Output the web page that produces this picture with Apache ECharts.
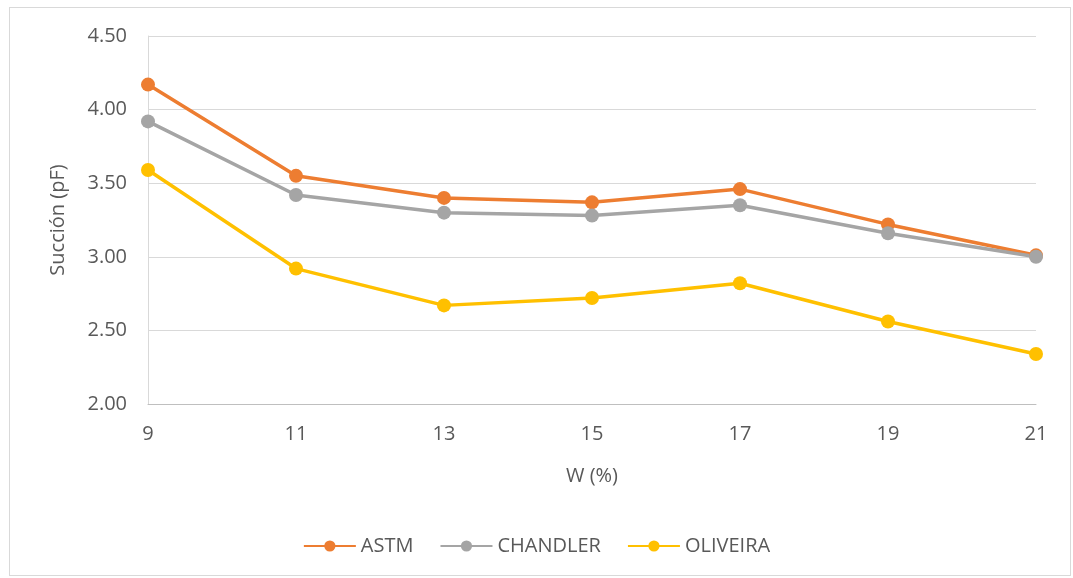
<!DOCTYPE html>
<html>
<head>
<meta charset="utf-8">
<script src="https://cdn.jsdelivr.net/npm/echarts@6/dist/echarts.min.js"></script>
<style>
  body { margin: 0; background: #fff; }
  #frame { position: absolute; left: 9px; top: 7px; width: 1062px; height: 569px; border: 1px solid #d9d9d9; box-sizing: border-box; }
  #chart { width: 1073px; height: 578px; }
</style>
</head>
<body>
<div id="frame"></div>
<div id="chart"></div>
<script>
var categories = ['9', '11', '13', '15', '17', '19', '21'];
var astm = [4.17, 3.55, 3.40, 3.37, 3.46, 3.22, 3.01];
var chandler = [3.92, 3.42, 3.30, 3.28, 3.35, 3.16, 3.00];
var oliveira = [3.59, 2.92, 2.67, 2.72, 2.82, 2.56, 2.34];

var Chart = echarts.init(document.getElementById('chart'));

function makeSeries(name, data, color) {
    return {
        name: name,
        type: 'line',
        data: data,
        symbol: 'circle',
        symbolSize: 14,
        color: color,
        lineStyle: { width: 3.5, color: color },
        itemStyle: { color: color }
    };
}

var option = {
    animation: false,
    textStyle: { fontFamily: 'Open Sans, DejaVu Sans, sans-serif' },
    grid: { left: 148, right: 37, top: 36, bottom: 174 },
    legend: {
        bottom: 17,
        left: 'center',
        itemWidth: 52,
        itemHeight: 14,
        itemGap: 26,
        textStyle: { fontSize: 20, color: '#595959' },
        data: ['ASTM', 'CHANDLER', 'OLIVEIRA']
    },
    xAxis: {
        type: 'category',
        data: categories,
        boundaryGap: false,
        name: 'W (%)',
        nameLocation: 'middle',
        nameGap: 62,
        nameTextStyle: { fontSize: 20, color: '#595959' },
        axisLine: { lineStyle: { color: '#bfbfbf', width: 1 } },
        axisTick: { show: false },
        axisLabel: { fontSize: 20, color: '#595959', margin: 20 },
        splitLine: { show: false }
    },
    yAxis: {
        type: 'value',
        min: 2,
        max: 4.5,
        interval: 0.5,
        name: 'Succión (pF)',
        nameLocation: 'middle',
        nameGap: 80,
        nameTextStyle: { fontSize: 20, color: '#595959' },
        axisLine: { show: true, lineStyle: { color: '#d9d9d9', width: 1 } },
        axisTick: { show: false },
        axisLabel: {
            fontSize: 20, color: '#595959', margin: 21,
            formatter: function (v) { return v.toFixed(2); }
        },
        splitLine: { lineStyle: { color: '#d9d9d9', width: 1 } }
    },
    series: [
        makeSeries('ASTM', astm, '#ed7d31'),
        makeSeries('CHANDLER', chandler, '#a5a5a5'),
        makeSeries('OLIVEIRA', oliveira, '#ffc000')
    ]
};
Chart.setOption(option);
</script>
</body>
</html>
